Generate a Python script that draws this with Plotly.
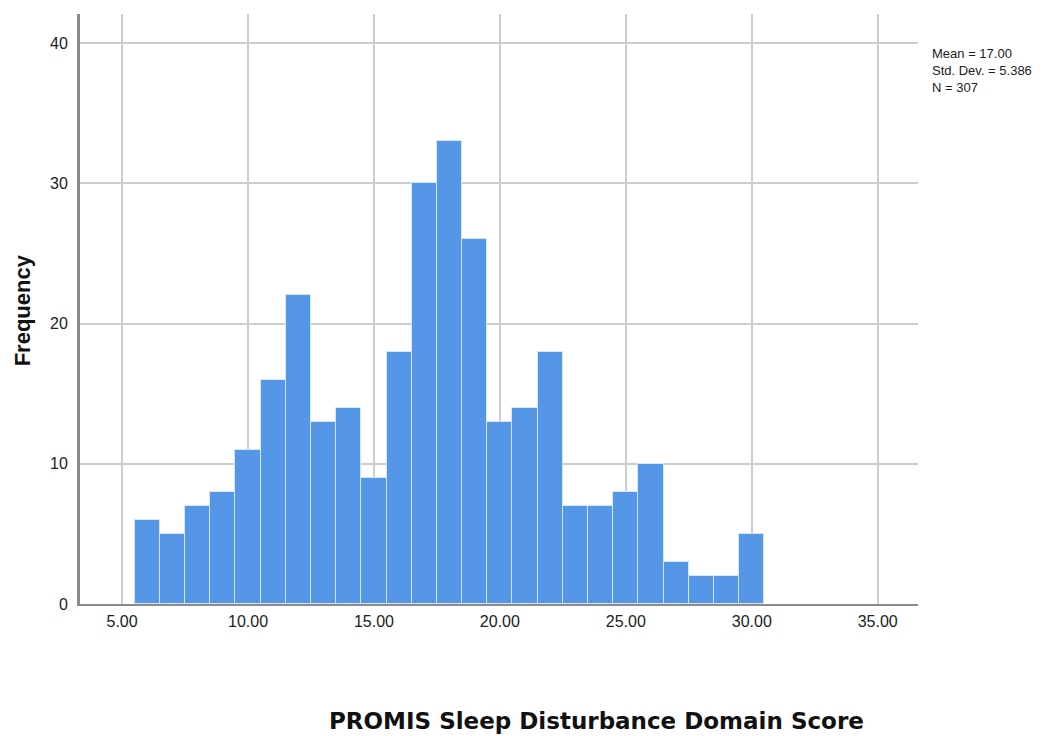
import plotly.graph_objects as go

bin_centers = [6, 7, 8, 9, 10, 11, 12, 13, 14, 15, 16, 17, 18, 19, 20, 21, 22, 23, 24, 25, 26, 27, 28, 29, 30]
frequencies = [6, 5, 7, 8, 11, 16, 22, 13, 14, 9, 18, 30, 33, 26, 13, 14, 18, 7, 7, 8, 10, 3, 2, 2, 5]
x_ticks = [5, 10, 15, 20, 25, 30, 35]
x_tick_labels = ["5.00", "10.00", "15.00", "20.00", "25.00", "30.00", "35.00"]
y_ticks = [0, 10, 20, 30, 40]
stats_lines = ["Mean = 17.00", "Std. Dev. = 5.386", "N = 307"]

fig = go.Figure()
fig.add_trace(go.Bar(
    x=bin_centers, y=frequencies, width=[1] * len(bin_centers),
    marker=dict(color="#5596e6", line=dict(color="#d6e6fa", width=1)),
    hoverinfo="x+y",
))

annotations = [
    dict(text="<br>".join(stats_lines), xref="paper", yref="paper", x=1.0143, y=0.950,
         xanchor="left", yanchor="top", showarrow=False, align="left",
         font=dict(family="Liberation Sans, Arial", size=13, color="#222")),
    dict(text="<b>Frequency</b>", xref="paper", yref="paper", x=-0.069, y=0.498,
         xanchor="center", yanchor="middle", textangle=-90, showarrow=False,
         font=dict(family="Liberation Sans, Arial", size=22, color="#111")),
    dict(text="<b>PROMIS Sleep Disturbance Domain Score</b>", xref="paper", yref="paper",
         x=0.616, y=-0.198, xanchor="center", yanchor="middle", showarrow=False,
         font=dict(family="DejaVu Sans", size=23, color="#111")),
]

fig.update_layout(
    width=1047, height=728,
    margin=dict(l=72, r=137, t=6, b=132),
    paper_bgcolor="white", plot_bgcolor="white",
    showlegend=False, bargap=0,
    font=dict(family="Liberation Sans, Arial", size=16, color="#222"),
    xaxis=dict(
        range=[3.33, 36.6], tickvals=x_ticks, ticktext=x_tick_labels,
        showgrid=True, gridcolor="#cccccc", gridwidth=1.5,
        showline=True, linecolor="#8a8a8a", linewidth=2,
        zeroline=False, ticks="", ticklen=0, ticklabelstandoff=2,
        tickfont=dict(size=16, color="#222"),
    ),
    yaxis=dict(
        range=[0, 42.07], tickvals=y_ticks,
        showgrid=True, gridcolor="#cccccc", gridwidth=1.5,
        showline=True, linecolor="#8a8a8a", linewidth=3,
        zeroline=False, ticks="", ticklen=0, ticklabelstandoff=6,
        tickfont=dict(size=16, color="#222"),
    ),
    annotations=annotations,
)

fig.write_html("out.html")
